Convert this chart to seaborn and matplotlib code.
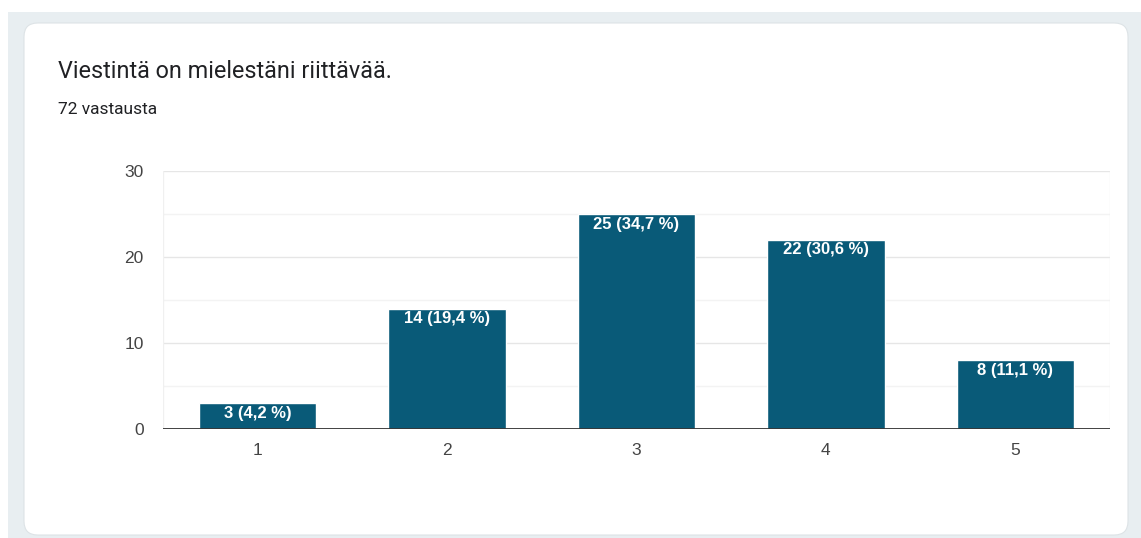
import matplotlib
matplotlib.use("Agg")
import matplotlib.pyplot as plt
from matplotlib.patches import FancyBboxPatch, Rectangle
import seaborn as sns
import pandas as pd

categories = ["1", "2", "3", "4", "5"]
counts = [3, 14, 25, 22, 8]
percents = ["4,2", "19,4", "34,7", "30,6", "11,1"]
yticks = [0, 10, 20, 30]

title = "Viestintä on mielestäni riittävää."
subtitle = "72 vastausta"

sns.set_theme(style="white")
plt.rcParams["font.family"] = ["Liberation Sans", "DejaVu Sans"]

W, H = 1141, 538
fig = plt.figure(figsize=(W / 100, H / 100), dpi=100)
fig.patch.set_facecolor("white")

# page background and card
fig.patches.append(Rectangle((8 / W, 0), 1 - 8 / W, 1 - 12 / H,
                             transform=fig.transFigure, facecolor="#e8eef1",
                             edgecolor="none", zorder=0))
fig.patches.append(FancyBboxPatch((24 / W, 3 / H), (1128 - 24) / W, (515 - 3) / H,
                                  boxstyle="round,pad=0,rounding_size=0.012",
                                  transform=fig.transFigure, facecolor="white",
                                  edgecolor="#dde3e6", linewidth=0.8, zorder=1,
                                  mutation_aspect=W / H))

fig.text(58 / W, 1 - 71 / H, title, fontsize=16.8, color="#202124", va="center",
         ha="left", family=["Roboto", "DejaVu Sans"])
fig.text(58 / W, 1 - 110 / H, subtitle, fontsize=12.5, color="#202124", va="center",
         ha="left", family=["Roboto", "DejaVu Sans"])

ax = fig.add_axes([163 / W, (H - 429) / H, 947 / W, (429 - 171) / H])
ax.set_facecolor("white")
ax.set_zorder(2)

df = pd.DataFrame({"vaihtoehto": categories, "lukumäärä": counts})
sns.barplot(data=df, x="vaihtoehto", y="lukumäärä", color="#095a78",
            saturation=1, width=0.62, ax=ax, zorder=3)

ax.set_ylim(0, 30)
ax.set_xlim(-0.5, len(categories) - 0.5)
ax.set_yticks(yticks)
ax.set_yticks([5, 15, 25], minor=True)
ax.grid(axis="y", which="major", color="#e6e6e6", linewidth=1, zorder=0)
ax.grid(axis="y", which="minor", color="#f3f3f3", linewidth=1, zorder=0)
ax.axhline(30, color="#e6e6e6", linewidth=1.2, zorder=1)
ax.axvline(-0.5, color="#f0f0f0", linewidth=1, zorder=1)
ax.axvline(len(categories) - 0.5, color="#f0f0f0", linewidth=1, zorder=1)
ax.axhline(0, color="#333333", linewidth=1.3, zorder=4)

for s in ax.spines.values():
    s.set_visible(False)
ax.set_xlabel("")
ax.set_ylabel("")
ax.tick_params(axis="both", which="both", length=0, labelsize=12.5, colors="#444444")
ax.tick_params(axis="y", pad=14)
ax.tick_params(axis="x", pad=10)

for i, (c, p) in enumerate(zip(counts, percents)):
    ax.text(i, c - 0.3, f"{c} ({p} %)", ha="center", va="top",
            color="white", fontsize=12, fontweight="bold", zorder=5)

fig.savefig("out.png", dpi=100)
